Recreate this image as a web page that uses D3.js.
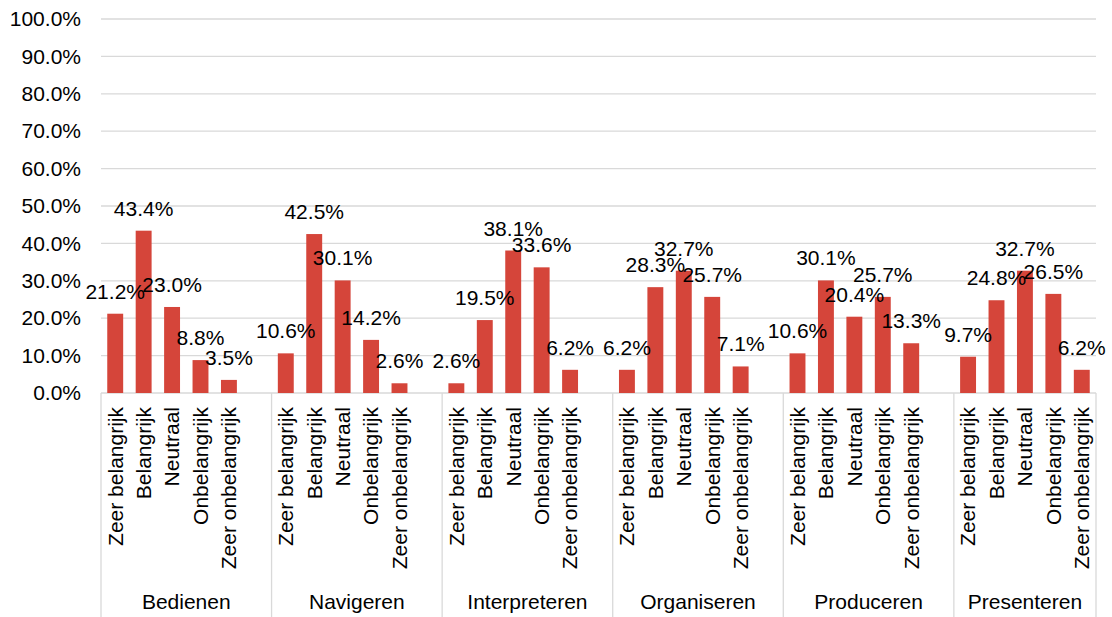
<!DOCTYPE html>
<html>
<head>
<meta charset="utf-8">
<script src="https://cdn.jsdelivr.net/npm/d3@7"></script>
<style>
  body { margin: 0; background: #fff; }
  text { font-family: "Liberation Sans", Arial, sans-serif; fill: #000; }
</style>
</head>
<body>
<script>
const groups = ["Bedienen", "Navigeren", "Interpreteren", "Organiseren", "Produceren", "Presenteren"];
const answers = ["Zeer belangrijk", "Belangrijk", "Neutraal", "Onbelangrijk", "Zeer onbelangrijk"];
const values = [
  [21.2, 43.4, 23.0, 8.8, 3.5],
  [10.6, 42.5, 30.1, 14.2, 2.6],
  [2.6, 19.5, 38.1, 33.6, 6.2],
  [6.2, 28.3, 32.7, 25.7, 7.1],
  [10.6, 30.1, 20.4, 25.7, 13.3],
  [9.7, 24.8, 32.7, 26.5, 6.2]
];
const yTicks = d3.range(0, 101, 10);

const width = 1112, height = 617;
const plotLeft = 101, plotRight = 1096, plotTop = 19, plotBottom = 393;
const fontSize = 21;
const barColor = "#d5453a";
const lineColor = "#d9d9d9";

// each group takes 5 slots plus one empty spacer slot (not after the last one)
const slotCount = groups.length * 6 - 1;
const rows = [];
groups.forEach((g, gi) => {
  answers.forEach((a, ai) => {
    rows.push({ group: g, answer: a, value: values[gi][ai], slot: gi * 6 + ai });
  });
});

const svg = d3.select("body").append("svg")
  .attr("width", width)
  .attr("height", height);

const x = d3.scaleBand()
  .domain(d3.range(slotCount))
  .range([plotLeft, plotRight])
  .paddingInner(0.44)
  .paddingOuter(0.22);

const step = x.step();

const y = d3.scaleLinear()
  .domain([0, 100])
  .range([plotBottom, plotTop]);

// gridlines
svg.append("g")
  .selectAll("line")
  .data(yTicks)
  .join("line")
  .attr("x1", plotLeft)
  .attr("x2", plotRight)
  .attr("y1", d => y(d))
  .attr("y2", d => y(d))
  .attr("stroke", lineColor)
  .attr("stroke-width", 1.3);

// y axis labels
const yAxis = svg.append("g")
  .attr("transform", `translate(${plotLeft - 20},0)`)
  .call(d3.axisLeft(y).tickValues(yTicks).tickSize(0).tickPadding(0)
    .tickFormat(d => d.toFixed(1) + "%"));
yAxis.select(".domain").remove();
yAxis.selectAll("text")
  .attr("font-size", fontSize)
  .attr("font-family", "Liberation Sans, Arial, sans-serif")
  .attr("fill", "#000");

// bars
svg.append("g")
  .selectAll("rect")
  .data(rows)
  .join("rect")
  .attr("x", d => x(d.slot))
  .attr("width", x.bandwidth())
  .attr("y", d => y(d.value))
  .attr("height", d => plotBottom - y(d.value))
  .attr("fill", barColor);

// data labels
svg.append("g")
  .selectAll("text")
  .data(rows)
  .join("text")
  .attr("x", d => x(d.slot) + x.bandwidth() / 2)
  .attr("y", d => y(d.value) - 15)
  .attr("text-anchor", "middle")
  .attr("font-size", fontSize)
  .text(d => d.value.toFixed(1) + "%");

// category axis: separators
const sepX = groups.map((g, gi) => plotLeft + gi * 6 * step).concat([plotRight]);
svg.append("g")
  .selectAll("line")
  .data(sepX)
  .join("line")
  .attr("x1", d => d)
  .attr("x2", d => d)
  .attr("y1", plotBottom)
  .attr("y2", height)
  .attr("stroke", lineColor)
  .attr("stroke-width", 1.3);

// rotated answer labels
svg.append("g")
  .selectAll("text")
  .data(rows)
  .join("text")
  .attr("transform", d => `translate(${x(d.slot) + x.bandwidth() / 2},${plotBottom + 14}) rotate(-90)`)
  .attr("text-anchor", "end")
  .attr("dy", "0.35em")
  .attr("font-size", fontSize)
  .text(d => d.answer);

// group labels
svg.append("g")
  .selectAll("text")
  .data(groups)
  .join("text")
  .attr("x", (d, i) => (sepX[i] + sepX[i + 1]) / 2)
  .attr("y", 609)
  .attr("text-anchor", "middle")
  .attr("font-size", fontSize)
  .text(d => d);
</script>
</body>
</html>
